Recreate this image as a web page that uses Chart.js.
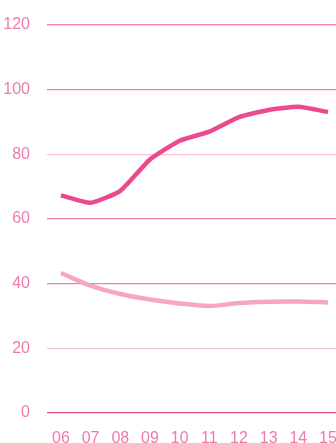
<!DOCTYPE html>
<html>
<head>
<meta charset="utf-8">
<script src="https://cdn.jsdelivr.net/npm/chart.js@4/dist/chart.umd.min.js"></script>
<style>
html,body{margin:0;padding:0;background:#fff;}
#wrap{width:336px;height:443px;position:relative;}
</style>
</head>
<body>
<div id="wrap"><canvas id="c" width="336" height="443"></canvas></div>
<script>
const categories = ["06","07","08","09","10","11","12","13","14","15"];
const seriesDark = [67.3, 65.0, 68.7, 78.4, 84.2, 87.0, 91.5, 93.7, 94.7, 93.1];
const seriesLight = [43.3, 39.4, 36.8, 35.1, 33.9, 33.1, 34.0, 34.4, 34.5, 34.2];
const yTicks = [0, 20, 40, 60, 80, 100, 120];

const gridColors = {0:"#e24d8a",20:"#f9c3d8",40:"#f07fae",60:"#f07fae",80:"#f9c3d8",100:"#f07fae",120:"#f07fae"};
const labelFont = {family:"'Liberation Sans', sans-serif", size:16, weight:'normal'};

new Chart(document.getElementById('c'), {
  type: 'line',
  data: {
    datasets: [
      {data: seriesDark.map((v,i)=>({x:i,y:v})), borderColor:'#ec4a8e', borderWidth:4.5, pointRadius:0, tension:0.15, fill:false},
      {data: seriesLight.map((v,i)=>({x:i,y:v})), borderColor:'#f5a6c6', borderWidth:4.5, pointRadius:0, tension:0.3, fill:false}
    ]
  },
  options: {
    responsive:false, animation:false,
    layout:{padding:{top:25,right:0,left:0,bottom:0}},
    plugins:{legend:{display:false},tooltip:{enabled:false}},
    scales:{
      x:{type:'linear', min:-0.47, max:9.27,
        afterBuildTicks:(s)=>{s.ticks = categories.map((c,i)=>({value:i}));},
        afterFit:(s)=>{s.height = 30; s.paddingLeft = 0; s.paddingRight = 0;},
        ticks:{callback:(v)=>categories[v], color:'#f07aab', font:labelFont, padding:8, maxRotation:0, autoSkip:false},
        grid:{display:false}, border:{display:false}},
      y:{min:0,max:120,
        afterBuildTicks:(s)=>{s.ticks = yTicks.map(v=>({value:v}));},
        afterFit:(s)=>{s.width = 47; s.paddingTop = 0; s.paddingBottom = 0;},
        ticks:{color:'#f07aab', font:labelFont, padding:17},
        grid:{color:(ctx)=>gridColors[ctx.tick.value]||'#f9c3d8', lineWidth:1.3, drawTicks:false},
        border:{display:false}}
    }
  }
});
</script>
</body>
</html>
